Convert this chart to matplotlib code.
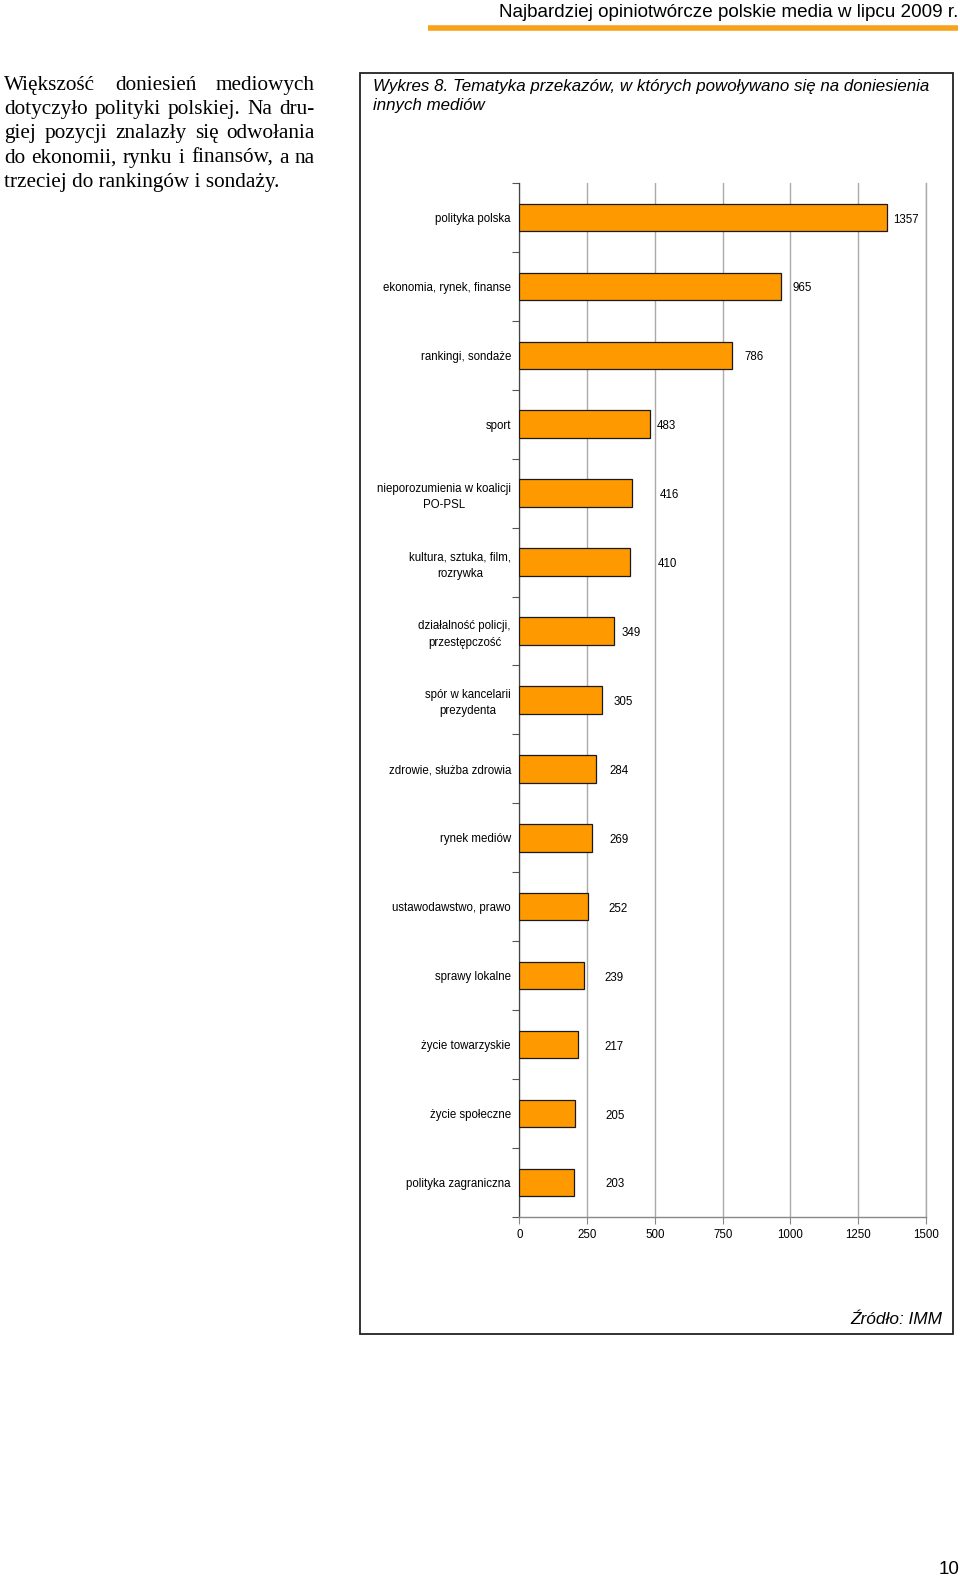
import matplotlib
matplotlib.use("Agg")
import matplotlib.pyplot as plt
from matplotlib.patches import Rectangle
from matplotlib.lines import Line2D
import numpy as np

categories = [
    "polityka polska", "ekonomia, rynek, finanse", "rankingi, sondaże", "sport",
    "nieporozumienia w koalicji\nPO-PSL", "kultura, sztuka, film,\nrozrywka",
    "działalność policji,\nprzestępczość", "spór w kancelarii\nprezydenta",
    "zdrowie, służba zdrowia", "rynek mediów", "ustawodawstwo, prawo",
    "sprawy lokalne", "życie towarzyskie", "życie społeczne", "polityka zagraniczna",
]
values = [1357, 965, 786, 483, 416, 410, 349, 305, 284, 269, 252, 239, 217, 205, 203]
x_ticks = [0, 250, 500, 750, 1000, 1250, 1500]
# label offsets (px) as placed in the original chart
label_pad_px = [6, 12, 12, 6, 28, 27, 8, 12, 13, 17, 21, 20, 26, 31, 31]

header = "Najbardziej opiniotwórcze polskie media w lipcu 2009 r."
title = "Wykres 8. Tematyka przekazów, w których powoływano się na doniesienia\ninnych mediów"
source = "Źródło: IMM"
paragraph_lines = [
    "Większość doniesień mediowych",
    "dotyczyło polityki polskiej. Na dru-",
    "giej pozycji znalazły się odwołania",
    "do ekonomii, rynku i finansów, a na",
    "trzeciej do rankingów i sondaży.",
]

W, H = 960, 1579
fig = plt.figure(figsize=(W / 100, H / 100), dpi=100)
fig.patch.set_facecolor("white")

def fx(px):
    return px / W

def fy(py):
    return 1 - py / H

sans = ["Liberation Sans", "DejaVu Sans"]
serif = ["Liberation Serif", "DejaVu Serif"]

# header
fig.text(fx(958), fy(12.5), header, ha="right", va="center", fontsize=13.6, family=sans)
fig.add_artist(Line2D([fx(428), fx(958)], [fy(27.5), fy(27.5)], color="#F7A21B", lw=4, solid_capstyle="butt"))

# chart frame
fig.add_artist(Rectangle((fx(360), fy(1333.5)), fx(953) - fx(360), fy(73) - fy(1333.5),
                         fill=False, edgecolor="#222222", lw=1.3))
fig.text(fx(373), fy(79.5), title, ha="left", va="top", fontsize=12.2, family=sans,
         style="italic", linespacing=1.27)
fig.text(fx(942), fy(1320), source, ha="right", va="center", fontsize=12.4, family=sans, style="italic")
fig.text(fx(949), fy(1569), "10", ha="center", va="center", fontsize=13.5, family=sans)

# left paragraph, justified
renderer = fig.canvas.get_renderer()
left_x, right_x = 4, 315
pfs = 15.3
for i, line in enumerate(paragraph_lines):
    ypx = 85.5 + i * 24.2
    words = line.split(" ")
    last = i == len(paragraph_lines) - 1
    if last:
        fig.text(fx(left_x), fy(ypx), line, ha="left", va="center", fontsize=pfs, family=serif)
        continue
    widths = []
    arts = []
    for w in words:
        t = fig.text(0, 0, w, ha="left", va="center", fontsize=pfs, family=serif)
        widths.append(t.get_window_extent(renderer).width)
        arts.append(t)
    gap = (right_x - left_x - sum(widths)) / (len(words) - 1)
    x = left_x
    for t, wdt in zip(arts, widths):
        t.set_position((fx(x), fy(ypx)))
        x += wdt + gap

# axes
ax = fig.add_axes([fx(519.3), fy(1216.8), fx(926) - fx(519.3), fy(183) - fy(1216.8)])
n = len(categories)
y = np.arange(n)
ax.barh(y, values, height=0.4, color="#FF9900", edgecolor="#1a1a1a", linewidth=0.9, zorder=3)
ax.set_ylim(n - 0.5, -0.5)
ax.set_xlim(0, 1500)
ax.set_xticks(x_ticks)
ax.set_xticklabels([str(v) for v in x_ticks], fontsize=8.3, family=sans)
ax.set_yticks(y)
ax.set_yticklabels(categories, fontsize=8.3, family=sans, multialignment="center", linespacing=1.45)
ax.set_yticks(np.arange(n + 1) - 0.5, minor=True)
ax.tick_params(axis="y", which="major", length=0, pad=6)
ax.tick_params(axis="y", which="minor", length=5, color="#555555", width=0.8)
ax.tick_params(axis="x", which="major", length=5, color="#888888", width=0.8, pad=4)
ax.grid(axis="x", color="#aaaaaa", lw=1.0, zorder=0)
ax.axvline(1500, color="#aaaaaa", lw=1.0, zorder=0, clip_on=False)
for s in ["top", "right"]:
    ax.spines[s].set_visible(False)
ax.spines["left"].set_color("#444444")
ax.spines["left"].set_linewidth(0.9)
ax.spines["bottom"].set_color("#888888")
ax.spines["bottom"].set_linewidth(1.0)

for yi, v, pad in zip(y, values, label_pad_px):
    ax.annotate(str(v), (v, yi), xytext=(pad * 0.72, -1.5), textcoords="offset points",
                ha="left", va="center", fontsize=8.3, family=sans)

fig.savefig("out.png", dpi=100, facecolor="white")
